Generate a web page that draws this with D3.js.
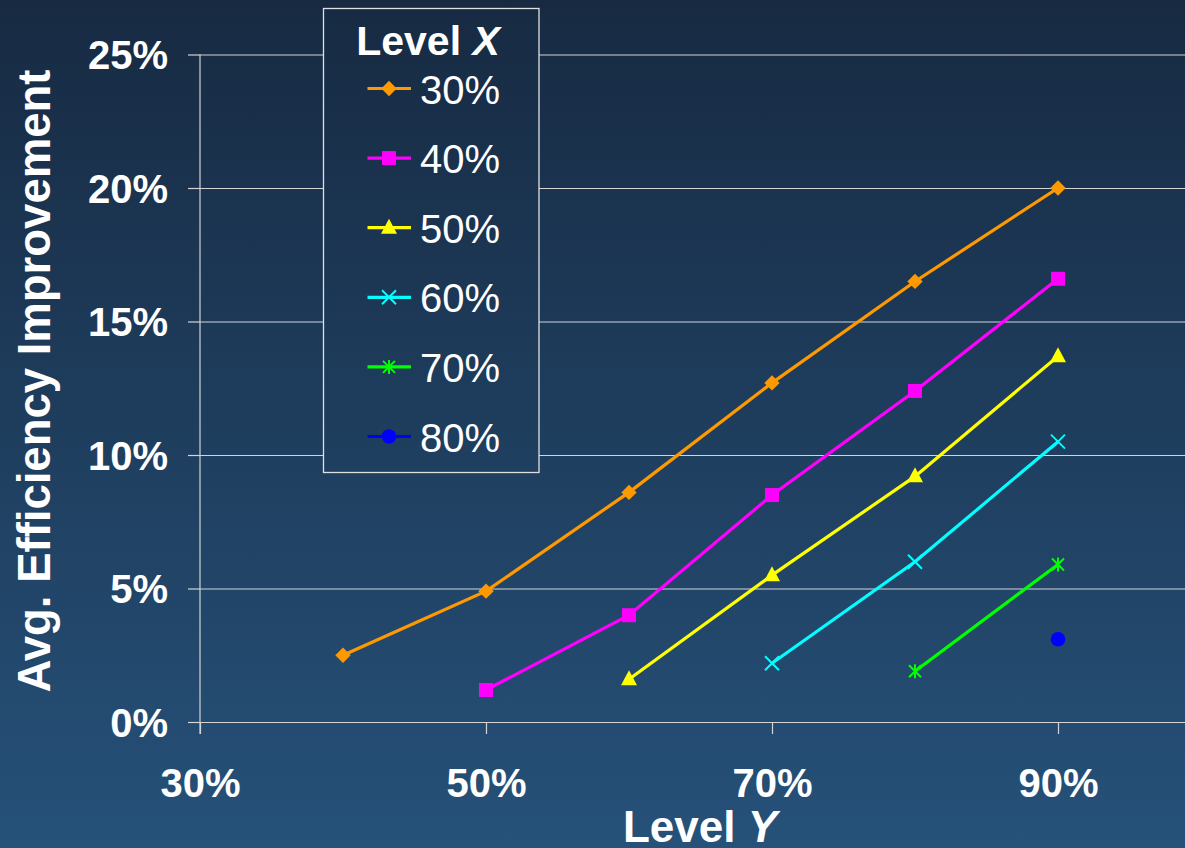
<!DOCTYPE html>
<html>
<head>
<meta charset="utf-8">
<script src="https://cdn.jsdelivr.net/npm/d3@7"></script>
<style>
  html, body { margin: 0; padding: 0; background: #1c3452; }
  svg { display: block; }
  text { font-family: "Liberation Sans", Arial, Helvetica, sans-serif; fill: #ffffff; }
</style>
</head>
<body>
<svg id="chart" width="1185" height="848"></svg>
<script>
// Level Y on the horizontal axis, efficiency gain (%) on the vertical axis
const levelY = [0.4, 0.5, 0.6, 0.7, 0.8, 0.9];

// One series per Level X; each starts at the first Level Y above it
const seriesNames = ["30%", "40%", "50%", "60%", "70%", "80%"];
const gain30 = [2.5, 4.9, 8.6, 12.7, 16.5, 20.0];
const gain40 = [1.2, 4.0, 8.5, 12.4, 16.6];
const gain50 = [1.6, 5.5, 9.2, 13.7];
const gain60 = [2.2, 6.0, 10.5];
const gain70 = [1.9, 5.9];
const gain80 = [3.1];

const xTickValues = [0.3, 0.5, 0.7, 0.9];
const yTickValues = [0, 5, 10, 15, 20, 25];

const colors = ["#ff9900", "#ff00ff", "#ffff00", "#00ffff", "#00ff00", "#0000ff"];
const markerKinds = ["diamond", "square", "triangle", "cross", "star", "circle"];

const allGains = [gain30, gain40, gain50, gain60, gain70, gain80];
const series = seriesNames.map((name, i) => {
  const vals = allGains[i];
  const xs = levelY.slice(levelY.length - vals.length);
  return { name, color: colors[i], kind: markerKinds[i],
           points: vals.map((v, j) => ({ x: xs[j], y: v })) };
});

const W = 1185, H = 848;
const svg = d3.select("#chart");

// background gradient
const defs = svg.append("defs");
const grad = defs.append("linearGradient")
  .attr("id", "bg").attr("gradientUnits", "userSpaceOnUse")
  .attr("x1", 0).attr("y1", 0).attr("x2", 0).attr("y2", H);
grad.append("stop").attr("offset", "0%").attr("stop-color", "#172a42");
grad.append("stop").attr("offset", "100%").attr("stop-color", "#265179");
svg.append("rect").attr("width", W).attr("height", H).attr("fill", "url(#bg)");

const x = d3.scaleLinear().domain([0.3, 1.0]).range([200, 1201]);
const y = d3.scaleLinear().domain([0, 25]).range([722, 54.5]);

const axisColor = "#d4d4d4";

// horizontal gridlines + y axis
const yAxis = d3.axisLeft(y).tickValues(yTickValues).tickSize(12).tickFormat(d => d + "%");
const gy = svg.append("g").attr("transform", "translate(200,0)").call(yAxis);
gy.select(".domain").remove();
gy.selectAll(".tick line").attr("stroke", axisColor).attr("stroke-width", 1.2);
gy.selectAll(".tick").append("line")
  .attr("x1", 0).attr("x2", W - 200).attr("y1", 0).attr("y2", 0)
  .attr("stroke", axisColor).attr("stroke-width", 1.2);
gy.selectAll(".tick text")
  .attr("x", -32).attr("dy", "0.36em")
  .style("font-size", "40px").style("font-weight", "bold").attr("fill", "#fff");

// x axis
const xAxis = d3.axisBottom(x).tickValues(xTickValues).tickSize(12)
  .tickFormat(d => Math.round(d * 100) + "%");
const gx = svg.append("g").attr("transform", "translate(0,722)").call(xAxis);
gx.select(".domain").remove();
gx.selectAll(".tick line").attr("stroke", axisColor).attr("stroke-width", 1.2);
gx.selectAll(".tick text")
  .attr("y", 75).attr("dy", 0)
  .style("font-size", "40px").style("font-weight", "bold").attr("fill", "#fff");

// vertical axis line
svg.append("line").attr("x1", 200).attr("x2", 200).attr("y1", y(25)).attr("y2", 734)
  .attr("stroke", axisColor).attr("stroke-width", 1.2);

// axis titles
svg.append("text").attr("x", 700).attr("y", 842).attr("text-anchor", "middle")
  .style("font-size", "44px").style("font-weight", "bold")
  .call(t => {
    t.append("tspan").text("Level ");
    t.append("tspan").style("font-style", "italic").text("Y");
  });
svg.append("text").attr("transform", "translate(50,381) rotate(-90)")
  .attr("text-anchor", "middle")
  .style("font-size", "45.5px").style("font-weight", "bold")
  .text("Avg. Efficiency Improvement");

// marker drawing
function drawMarker(g, kind, color) {
  switch (kind) {
    case "diamond":
      g.append("path").attr("d", d3.symbol(d3.symbolDiamond2, 150)()).attr("fill", color);
      break;
    case "square":
      g.append("rect").attr("x", -7).attr("y", -7).attr("width", 14).attr("height", 14).attr("fill", color);
      break;
    case "triangle":
      g.append("path").attr("d", "M0,-9L8,6L-8,6Z").attr("fill", color);
      break;
    case "cross":
      g.append("path").attr("d", "M-7,-7L7,7M-7,7L7,-7").attr("stroke", color).attr("stroke-width", 2).attr("fill", "none");
      break;
    case "star":
      g.append("path").attr("d", "M-6,-6L6,6M-6,6L6,-6M0,-7L0,7").attr("stroke", color).attr("stroke-width", 2).attr("fill", "none");
      break;
    case "circle":
      g.append("circle").attr("r", 7.3).attr("fill", color);
      break;
  }
}

// series lines and markers
const line = d3.line().x(d => x(d.x)).y(d => y(d.y));
const gs = svg.append("g").selectAll("g").data(series).join("g");
gs.append("path").attr("d", d => line(d.points))
  .attr("fill", "none").attr("stroke", d => d.color).attr("stroke-width", 3.2);
gs.each(function (s) {
  d3.select(this).selectAll("g.m").data(s.points).join("g").attr("class", "m")
    .attr("transform", p => `translate(${x(p.x)},${y(p.y)})`)
    .each(function () { drawMarker(d3.select(this), s.kind, s.color); });
});

// legend
const lg = svg.append("g");
lg.append("rect").attr("x", 323.5).attr("y", 8.5).attr("width", 215.5).attr("height", 464)
  .attr("fill", "url(#bg)").attr("stroke", "#e0e0e0").attr("stroke-width", 1.3);
lg.append("text").attr("x", 428).attr("y", 55).attr("text-anchor", "middle")
  .style("font-size", "41px").style("font-weight", "bold")
  .call(t => {
    t.append("tspan").text("Level ");
    t.append("tspan").style("font-style", "italic").text("X");
  });
const items = lg.selectAll("g.item").data(series).join("g").attr("class", "item")
  .attr("transform", (d, i) => `translate(0,${88.5 + i * 69.6})`);
items.append("line").attr("x1", 367.5).attr("x2", 411).attr("y1", 0).attr("y2", 0)
  .attr("stroke", d => d.color).attr("stroke-width", 3.2);
items.each(function (s) {
  const m = d3.select(this).append("g").attr("transform", "translate(389,0)");
  drawMarker(m, s.kind, s.color);
});
items.append("text").attr("x", 420).attr("y", 15)
  .style("font-size", "40px").text(d => d.name);
</script>
</body>
</html>
